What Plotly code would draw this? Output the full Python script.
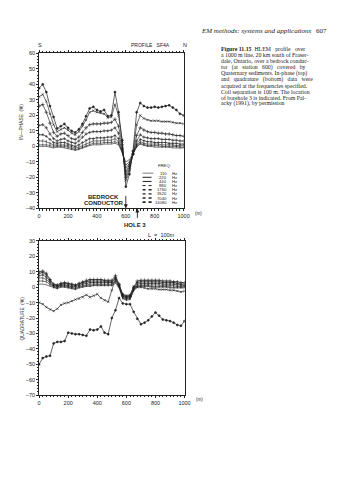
import plotly.graph_objects as go

W, H = 338, 480

# Station positions along the profile (m)
station_m = [0, 25, 50, 75, 100, 125, 150, 175, 200, 225, 250, 275, 300, 325, 350,
             375, 400, 425, 450, 475, 500, 525, 550, 575, 600, 625, 650, 675, 700,
             725, 750, 775, 800, 825, 850, 875, 900, 925, 950, 975, 1000]

freq_hz = [110, 220, 440, 880, 1760, 3520, 7040, 14080]

# In-phase response (%) per frequency
inphase_110 = [0, 0, 0, -0.5, -1, -0.5, -0.5, -1, -1.5, -2, -2.5, -2, -1, 0, 0.5,
               1, 1, 1, 1.5, 1.5, 1.5, 2, 1, -4, -10, -8.5, -4, -0.5, 1.5,
               0.5, 0, 0, -0.5, -0.5, -0.5, -0.5, -0.5, -1, -1, -1, -1]
inphase_220 = [1, 1, 1, 0.5, 0, 0.2, 0.3, 0, -0.5, -1.5, -2, -1.5, -0.5, 0.5, 1.5,
               2, 2, 2, 2.5, 2.5, 2.5, 3, 2, -3.5, -12, -10, -4.5, 0, 2,
               1, 0.5, 0.5, 0.5, 0.5, 0, 0, 0, 0, 0, -0.5, -0.5]
inphase_440 = [3.5, 3.5, 3, 2, 1, 0.8, 1, 1, 0.5, -0.5, -1, -0.5, 0.5, 2, 3,
               3.5, 3.5, 3.5, 4, 4, 4, 5, 3, -3, -14, -11, -4.5, 0.5, 3,
               2, 1.5, 1.5, 1.5, 1.5, 1, 1, 1, 1, 0.5, 0.5, 0.5]
inphase_880 = [7.5, 7.5, 6.5, 4.5, 2.5, 2, 2.5, 2.5, 1.5, 0.5, 0, 1, 2.5, 4, 5,
               5, 5.5, 5.5, 5.5, 6, 6, 7, 5, -2, -16, -12, -5, 1.5, 4.5,
               3.5, 3, 3, 2.5, 2.5, 2.5, 2.5, 2, 2, 2, 1.5, 1.5]
inphase_1760 = [13.5, 14, 12, 8, 5, 3.5, 4.5, 5, 3.5, 2.5, 2, 3.5, 6, 8, 9,
                9.5, 9.5, 9.5, 10, 10, 10.5, 12, 8.5, -1, -18, -13, -5, 3.5, 7.5,
                6, 5.5, 5, 5, 5, 4.5, 4.5, 4.5, 4, 4, 3.5, 3.5]
inphase_3520 = [26, 27, 22, 15, 9, 6.5, 8, 8.5, 7, 5, 4.5, 6, 9, 12, 14,
                14.5, 14.5, 14.5, 15, 15, 15.5, 17.5, 13, 1, -20, -14.5, -5, 7, 12,
                10.5, 9.5, 9, 9, 8.5, 8.5, 8, 8, 7.5, 7, 7, 6.5]
inphase_7040 = [32, 33.5, 29, 21, 14, 9.5, 11, 12, 10.5, 8.5, 7.5, 9.5, 13, 17, 22,
                23, 22, 21.5, 21, 18.5, 19, 27, 20, 3, -22, -16, -4, 14, 20,
                18, 17, 16.5, 16.5, 16.5, 16, 16, 16, 15.5, 15, 15, 14.5]
inphase_14080 = [37.5, 40, 35, 26, 19, 11.5, 13, 14.5, 12, 10, 9, 11, 14.5, 19.5, 24.5,
                 25.5, 23.5, 22.5, 23.5, 19.5, 20, 35, 22, 4, -26, -18, -3, 22, 28,
                 26, 25, 25, 25.5, 25, 25.5, 26, 26.5, 25, 23.5, 21, 20]

# Quadrature response (%) per frequency
quad_110 = [2, 2, 1.5, 0.5, -0.5, -1, 0, 0, -0.5, -1, -1.5, -0.5, 0, 0.5, 0.5,
            1, 1, 1, 1, 1, 1, 2.5, -0.5, -7.5, -8.5, -8, -2.5, 0, 0.5,
            0.5, 0.5, 0, 0, 0, 0, 0, -0.5, -0.5, -0.5, -0.5, -0.5]
quad_220 = [4, 4, 3.5, 1.5, 0, -0.5, 0.5, 0.5, 0, -0.5, -1, 0, 0.5, 1, 1,
            1.5, 1.5, 1.5, 1.5, 1.5, 1.5, 3.5, 0, -7, -8, -7.5, -2, 0.5, 1,
            1, 1, 0.5, 0.5, 0.5, 0.5, 0.5, 0, 0, 0, 0, 0]
quad_440 = [6, 6, 5, 2.5, 0.5, 0, 1, 1, 0.5, 0, -0.5, 0.5, 1, 1.5, 2,
            2, 2, 2, 2, 2, 2, 4.5, 0.5, -6.5, -7.5, -7, -1.5, 1, 1.5,
            1.5, 1.5, 1.5, 1.5, 1.5, 1, 1, 1, 1, 0.5, 0.5, 0.5]
quad_880 = [7.5, 8, 6.5, 3.5, 1, 0.5, 1.5, 1.5, 1, 0.5, 0.5, 1, 2, 2.5, 3,
            3, 3, 3, 3, 3, 3, 5.5, 1, -6, -7, -6.5, -1, 2, 2.5,
            2.5, 2.5, 2.5, 2.5, 2.5, 2, 2, 2, 2, 1.5, 1.5, 1]
quad_1760 = [9, 9.5, 8, 4.5, 1.5, 1, 2, 2.5, 2, 1.5, 1, 2, 3, 3.5, 4,
             4, 4, 4, 4, 3.5, 3.5, 6.5, 1.5, -5.5, -6.5, -6, -0.5, 3, 3.5,
             3.5, 3.5, 3.5, 3.5, 3.5, 3, 3, 3, 3, 2.5, 2, 2]
quad_3520 = [10, 10.5, 9, 5, 2, 1.5, 2.5, 3, 2.5, 2, 1.5, 2.5, 3.5, 4.5, 5,
             5, 5, 5, 4.5, 4.5, 4.5, 7.5, 2, -5, -6, -5.5, 0, 4, 4.5,
             4.5, 4.5, 4.5, 4.5, 4.5, 4, 4, 4, 3.5, 3.5, 3, 3]
quad_7040 = [-10, -11, -13, -14.5, -15.5, -14, -11.5, -10.5, -10, -9, -8, -7.5, -6.5, -5, -6.5,
             -5.5, -4.5, -7, -8.5, -9.5, -2, 5.5, 1, -4.5, -5.5, -5, 0.5, 0, 0,
             -0.5, -1, -1, -1, -1.5, -1.5, -1.5, -2, -2, -2.5, -3, -2.5]
quad_14080 = [-50, -46, -45, -44.5, -36.5, -35.5, -35.5, -35, -29.5, -30, -30.5, -30.5, -31, -31.5, -27.5,
              -28, -27.5, -25.5, -29.5, -30.5, -20, -15, -7, -10.5, -11, -11, -16, -20.5, -24,
              -23, -21.5, -19, -16.5, -18.5, -21, -21.5, -22, -23, -24.5, -25, -22]

inphase = [inphase_110, inphase_220, inphase_440, inphase_880,
           inphase_1760, inphase_3520, inphase_7040, inphase_14080]
quadrature = [quad_110, quad_220, quad_440, quad_880,
              quad_1760, quad_3520, quad_7040, quad_14080]

x_ticks = [0, 200, 400, 600, 800, 1000]
ip_ticks = [60, 50, 40, 30, 20, 10, 0, -10, -20, -30, -40]
q_ticks = [30, 20, 10, 0, -10, -20, -30, -40, -50, -60, -70]

conductor_m = 600
hole3_m = 680

caption_lines = [
    "<b>Figure 11.15</b>\u00a0\u00a0HLEM\u00a0\u00a0 profile\u00a0\u00a0 over",
    "a 1000 m line, 20 km south of Fraser-",
    "dale, Ontario, over a bedrock conduc-",
    "tor\u00a0\u00a0 (at\u00a0\u00a0 station\u00a0\u00a0 600)\u00a0\u00a0 covered\u00a0\u00a0 by",
    "Quaternary sediments. In-phase (top)",
    "and\u00a0\u00a0 quadrature\u00a0\u00a0 (bottom)\u00a0\u00a0 data\u00a0\u00a0 were",
    "acquired at the frequencies specified.",
    "Coil separation is 100 m. The location",
    "of borehole 3 is indicated. From Pal-",
    "acky (1991), by permission",
]

INK = "#222222"
SANS = "Liberation Sans"
SERIF = "Liberation Serif"

# line / marker style per frequency
style = {
    110: dict(symbol="circle", size=0.1, lw=0.6),
    220: dict(symbol="line-ns", size=2, lw=0.6),
    440: dict(symbol="line-ns", size=2.2, lw=0.6),
    880: dict(symbol="cross-thin", size=2, lw=0.6),
    1760: dict(symbol="cross-thin", size=2.3, lw=0.6),
    3520: dict(symbol="cross-thin", size=2.6, lw=0.65),
    7040: dict(symbol="x-thin", size=2.3, lw=0.65),
    14080: dict(symbol="circle", size=2, lw=0.7),
}


def px(p):
    return p / W


def py(p):
    return 1 - p / H


fig = go.Figure()

for f, ys in zip(freq_hz, inphase):
    s = style[f]
    fig.add_trace(go.Scatter(
        x=station_m, y=ys, xaxis="x", yaxis="y", mode="lines+markers",
        line=dict(color=INK, width=s["lw"]),
        marker=dict(symbol=s["symbol"], size=s["size"], color=INK,
                    line=dict(color=INK, width=0.6)),
        showlegend=False, name=f"{f} Hz"))

for f, ys in zip(freq_hz, quadrature):
    s = style[f]
    fig.add_trace(go.Scatter(
        x=station_m, y=ys, xaxis="x2", yaxis="y2", mode="lines+markers",
        line=dict(color=INK, width=s["lw"]),
        marker=dict(symbol=s["symbol"], size=s["size"], color=INK,
                    line=dict(color=INK, width=0.6)),
        showlegend=False, name=f"{f} Hz"))

tickfont = dict(family=SANS, size=5.5, color=INK)


def xax(domain, anchor):
    return dict(domain=domain, anchor=anchor, range=[0, 1000], tickvals=x_ticks,
                ticks="outside", ticklen=2, tickwidth=0.7, tickcolor=INK,
                minor=dict(dtick=25, ticks="outside", ticklen=1.2, tickwidth=0.6, tickcolor=INK),
                showline=True, linecolor=INK, linewidth=0.8, mirror="ticks",
                showgrid=False, zeroline=False, tickfont=tickfont, fixedrange=True)


def yax(domain, anchor, rng, vals):
    return dict(domain=domain, anchor=anchor, range=rng, tickvals=vals,
                ticks="outside", ticklen=2, tickwidth=0.7, tickcolor=INK,
                minor=dict(dtick=2, ticks="outside", ticklen=1, tickwidth=0.5, tickcolor=INK),
                showline=True, linecolor=INK, linewidth=0.8, mirror=True,
                showgrid=False, zeroline=False, tickfont=tickfont, fixedrange=True)


annotations = []


def note(text, x, y, size=5, family=SANS, xanchor="center", textangle=0, italic=False):
    annotations.append(dict(
        text=f"<i>{text}</i>" if italic else text, x=px(x), y=py(y),
        xref="paper", yref="paper", showarrow=False, xanchor=xanchor, yanchor="middle",
        textangle=textangle, font=dict(family=family, size=size, color=INK)))


# page header
note("EM methods: systems and applications", 202, 28, size=7, family=SERIF, xanchor="left", italic=True)
note("607", 335, 28, size=7, family=SERIF, xanchor="right")

# caption
for i, line in enumerate(caption_lines):
    note(line, 222, 47 + 6.1 * i, size=5.8, family=SERIF, xanchor="left")

# top panel labels
note("S", 39, 43, size=5.5)
note("PROFILE\u00a0\u00a0 SF4A", 152, 43, size=5)
note("N", 187, 43, size=5.5)
note("IN\u2014PHASE\u00a0 (%)", 20, 121, size=4.8, textangle=-90)
note("(m)", 201, 213, size=4.5)
note("<b>BEDROCK</b>", 104, 196, size=6)
note("<b>CONDUCTOR</b>", 104, 202.5, size=6)
note("<b>HOLE 3</b>", 136, 225, size=6)
note("L\u00a0 =\u00a0 100m", 163, 235, size=5.5)

# bottom panel labels
note("QUADRATURE\u00a0 (%)", 20, 320, size=4.8, textangle=-90)
note("(m)", 202, 402, size=4.5)

# arrows to conductor and borehole
annotations.append(dict(x=conductor_m, y=-40, xref="x", yref="y", showarrow=True,
                        ax=0, ay=-14, arrowhead=2, arrowsize=0.9, arrowwidth=0.9,
                        arrowcolor=INK, text=""))
annotations.append(dict(x=hole3_m, y=-40, xref="x", yref="y", showarrow=True,
                        ax=0, ay=11, arrowhead=2, arrowsize=0.9, arrowwidth=0.9,
                        arrowcolor=INK, text=""))

# frequency key
shapes = []
note("FREQ.", 166, 165, size=4.2)
key_dash = {110: "solid", 220: "dash", 440: "dash", 880: "dot",
            1760: "dot", 3520: "dot", 7040: "dot", 14080: "dot"}
key_w = {110: 0.6, 220: 1.0, 440: 1.0, 880: 1.0, 1760: 1.4, 3520: 1.4, 7040: 1.4, 14080: 1.8}
for i, f in enumerate(freq_hz):
    yy = 172.3 + 4.2 * i
    shapes.append(dict(type="line", xref="paper", yref="paper",
                       x0=px(144), x1=px(155), y0=py(yy), y1=py(yy),
                       line=dict(color=INK, width=key_w[f], dash=key_dash[f])))
    note(str(f), 171, yy, size=4.2, xanchor="right")
    note("Hz", 172.5, yy, size=4.2, xanchor="left")

fig.update_layout(
    width=W, height=H, margin=dict(l=0, r=0, t=0, b=0),
    paper_bgcolor="white", plot_bgcolor="white",
    xaxis=xax([px(38), px(186)], "y"),
    yaxis=yax([py(208), py(51)], "x", [-40, 60], ip_ticks),
    xaxis2=xax([px(38), px(187)], "y2"),
    yaxis2=yax([py(397), py(241)], "x2", [-70, 30], q_ticks),
    annotations=annotations, shapes=shapes, showlegend=False,
)

fig.write_html("out.html")
